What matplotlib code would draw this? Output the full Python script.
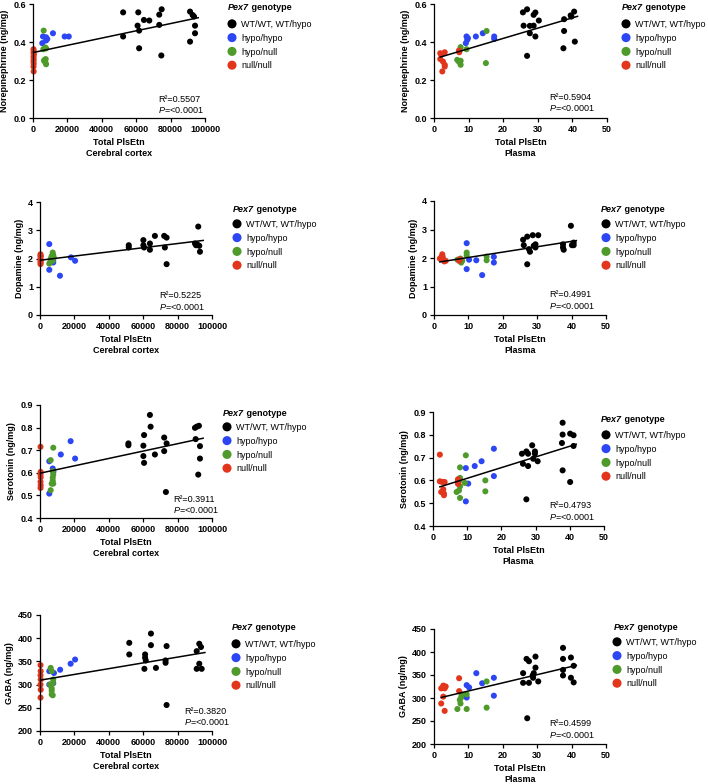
import matplotlib
matplotlib.use("Agg")
import matplotlib.pyplot as plt
import numpy as np

plt.rcParams['font.family'] = ['Liberation Sans', 'DejaVu Sans']
plt.rcParams['mathtext.fontset'] = 'custom'
plt.rcParams['mathtext.rm'] = 'Liberation Sans'
plt.rcParams['mathtext.it'] = 'Liberation Sans:italic'
plt.rcParams['mathtext.bf'] = 'Liberation Sans:bold'

# ---------------- data ----------------
groups = ['WT/WT, WT/hypo', 'hypo/hypo', 'hypo/null', 'null/null']
colors = ['#000000', '#2b46f2', '#4e9a2b', '#e2361c']

# Norepinephrine vs cortex PlsEtn
ne_cx_wt = [(52400,0.556),(52400,0.429),(61200,0.556),(60800,0.486),(61700,0.460),(61700,0.367),(64500,0.516),(67600,0.513),(73400,0.544),(74800,0.572),(73400,0.490),(74600,0.329),(91300,0.560),(92800,0.542),(93600,0.534),(94200,0.486),(94200,0.446),(91300,0.402)]
ne_cx_hh = [(5800,0.429),(7600,0.425),(5400,0.394),(8300,0.416),(7600,0.408),(11600,0.446),(18400,0.429),(20800,0.429)]
ne_cx_hn = [(6200,0.460),(6000,0.362),(7200,0.371),(7600,0.366),(6800,0.306),(7200,0.292),(7600,0.283),(6400,0.302),(7400,0.310)]
ne_cx_nn = [(300,0.362),(400,0.352),(300,0.342),(500,0.333),(300,0.322),(400,0.310),(300,0.298),(400,0.285),(300,0.270),(400,0.245)]
# Norepinephrine vs plasma PlsEtn
ne_pl_wt = [(25.7,0.556),(26.9,0.572),(25.9,0.486),(27.7,0.485),(27.7,0.446),(26.9,0.327),(28.8,0.543),(29.3,0.555),(28.8,0.486),(29.3,0.429),(30.3,0.513),(37.6,0.520),(37.6,0.458),(37.4,0.367),(39.5,0.540),(39.7,0.534),(40.5,0.560),(40.7,0.402)]
ne_pl_hh = [(9.4,0.429),(9.6,0.411),(9.2,0.394),(9.8,0.420),(12.1,0.429),(14.1,0.446),(17.4,0.429),(17.4,0.416)]
ne_pl_hn = [(15.2,0.458),(15.0,0.289),(7.7,0.373),(7.5,0.359),(9.4,0.362),(6.7,0.306),(7.7,0.301),(7.7,0.280),(7.2,0.296)]
ne_pl_nn = [(1.8,0.341),(3.1,0.346),(1.8,0.310),(2.6,0.297),(3.1,0.280),(3.1,0.271),(2.4,0.245),(7.2,0.355),(7.3,0.346),(2.1,0.333)]
# Dopamine
da_cx_wt = [(51600,2.47),(51600,2.39),(60100,2.65),(60100,2.47),(60500,2.39),(63900,2.53),(63900,2.31),(66800,2.80),(72200,2.80),(73600,2.74),(72600,2.39),(73600,1.80),(90100,2.53),(90700,2.47),(92000,3.13),(92600,2.45),(93000,2.24),(91400,2.50)]
da_cx_hh = [(5400,2.51),(5400,1.60),(11600,1.39),(18000,2.04),(20400,1.92),(7700,1.86),(7700,1.95)]
da_cx_hn = [(7400,2.21),(6800,2.09),(6200,1.98),(5800,1.86),(7700,2.12),(8000,2.04),(5400,1.82),(7400,1.92),(6600,2.02)]
da_cx_nn = [(300,2.15),(400,2.07),(300,2.00),(400,1.95),(300,1.90),(400,1.85),(300,2.10),(300,1.80)]
da_pl_wt = [(25.9,2.64),(26.1,2.45),(27.1,2.75),(27.6,2.31),(27.9,2.22),(27.1,1.78),(28.7,2.80),(29.0,2.43),(29.5,2.48),(30.3,2.80),(29.5,2.37),(37.5,2.48),(37.5,2.37),(37.7,2.29),(39.8,3.13),(40.1,2.45),(40.6,2.54),(40.6,2.45)]
da_pl_hh = [(9.5,2.52),(9.5,1.61),(10.2,1.94),(12.3,1.92),(14.0,1.40),(17.4,2.04),(17.4,1.84)]
da_pl_hn = [(6.8,1.94),(7.7,1.98),(7.9,1.84),(8.2,1.90),(9.5,2.19),(9.5,2.10),(15.3,2.05),(15.3,1.92),(7.4,1.92)]
da_pl_nn = [(2.4,2.13),(2.1,2.02),(2.7,1.96),(3.4,1.90),(3.0,1.88),(1.7,1.98),(7.3,1.90),(7.5,1.96),(2.5,2.05)]
# Serotonin
ht_cx_wt = [(51400,0.730),(51400,0.722),(60500,0.767),(60100,0.720),(60100,0.674),(60500,0.644),(63900,0.856),(64300,0.804),(66800,0.681),(72200,0.756),(73600,0.730),(72200,0.696),(73200,0.515),(90100,0.799),(91100,0.804),(92400,0.808),(90500,0.749),(93000,0.718),(93000,0.663),(92000,0.592)]
ht_cx_hh = [(5400,0.651),(12100,0.681),(17800,0.740),(20400,0.663),(7400,0.619),(5400,0.508),(7800,0.605)]
ht_cx_hn = [(6200,0.656),(7700,0.711),(7400,0.607),(7700,0.592),(7400,0.578),(6800,0.552),(7700,0.552),(6200,0.523),(7400,0.565)]
ht_cx_nn = [(300,0.715),(400,0.604),(300,0.592),(400,0.580),(300,0.560),(400,0.545),(300,0.533)]
ht_pl_wt = [(26.0,0.717),(27.3,0.727),(27.8,0.717),(26.3,0.673),(27.8,0.663),(27.3,0.517),(29.0,0.754),(29.3,0.695),(29.8,0.727),(29.8,0.717),(30.6,0.684),(37.9,0.853),(37.9,0.801),(37.7,0.764),(37.9,0.644),(40.1,0.805),(41.1,0.798),(41.1,0.751),(40.1,0.593)]
ht_pl_hh = [(17.8,0.739),(17.8,0.619),(14.2,0.684),(12.2,0.663),(9.6,0.654),(10.3,0.586),(9.6,0.508)]
ht_pl_hn = [(9.6,0.710),(7.9,0.657),(7.9,0.611),(7.6,0.596),(7.9,0.574),(7.6,0.556),(6.9,0.549),(7.9,0.523),(15.3,0.600),(15.3,0.552),(9.3,0.589)]
ht_pl_nn = [(2.0,0.713),(2.0,0.596),(2.7,0.593),(3.4,0.593),(3.0,0.561),(2.4,0.549),(3.2,0.542),(3.2,0.535),(7.3,0.605),(7.3,0.596),(7.3,0.585)]
# GABA
ga_cx_wt = [(51900,390),(51900,365),(61100,365),(61100,358),(61500,352),(60700,334),(64500,410),(64500,385),(67400,336),(73600,383),(73000,352),(73000,347),(73600,256),(91100,372),(92600,388),(93600,381),(92600,345),(91100,334),(94000,334)]
ga_cx_hh = [(5400,329),(8100,325),(11700,332),(17800,345),(20400,354),(7700,303),(5400,300)]
ga_cx_hn = [(6200,336),(6800,329),(7700,311),(7400,303),(5800,300),(6800,292),(6800,287),(6800,279),(7400,277)]
ga_cx_nn = [(300,342),(400,329),(300,320),(400,311),(300,300),(400,289),(300,272)]
ga_pl_wt = [(25.9,354),(25.9,333),(26.9,385),(27.6,380),(27.6,333),(27.1,256),(28.7,349),(29.0,354),(28.8,344),(29.5,390),(29.5,366),(30.3,336),(37.5,409),(37.5,385),(37.5,361),(37.5,349),(39.8,388),(39.8,344),(40.6,370),(40.6,334)]
ga_pl_hh = [(9.5,328),(10.2,323),(9.5,301),(12.3,354),(14.0,332),(17.4,344),(17.4,305)]
ga_pl_hn = [(15.3,336),(15.3,279),(6.8,276),(9.5,276),(7.7,288),(7.9,301),(8.0,308),(9.5,308),(7.5,296)]
ga_pl_nn = [(2.7,327),(2.4,322),(3.4,325),(2.1,321),(3.1,321),(2.7,303),(2.1,288),(3.1,272),(7.3,343),(7.3,315)]

r2_values = ['0.5507', '0.5904', '0.5225', '0.4991', '0.3911', '0.4793', '0.3820', '0.4599']
p_text = '<0.0001'

ylabels = ['Norepinephrine (ng/mg)', 'Dopamine (ng/mg)', 'Serotonin (ng/mg)', 'GABA (ng/mg)']
xlabels = ['Total PlsEtn\nCerebral cortex', 'Total PlsEtn\nPlasma']
cortex_xticks = [0, 20000, 40000, 60000, 80000, 100000]
plasma_xticks = [0, 10, 20, 30, 40, 50]
yticks_rows = [[0.0, 0.2, 0.4, 0.6], [0, 1, 2, 3, 4], [0.4, 0.5, 0.6, 0.7, 0.8, 0.9], [200, 250, 300, 350, 400, 450]]
ytick_labels_rows = [['0.0', '0.2', '0.4', '0.6'], ['0', '1', '2', '3', '4'],
                     ['0.4', '0.5', '0.6', '0.7', '0.8', '0.9'], ['200', '250', '300', '350', '400', '450']]

panel_data = [
    [ne_cx_wt, ne_cx_hh, ne_cx_hn, ne_cx_nn], [ne_pl_wt, ne_pl_hh, ne_pl_hn, ne_pl_nn],
    [da_cx_wt, da_cx_hh, da_cx_hn, da_cx_nn], [da_pl_wt, da_pl_hh, da_pl_hn, da_pl_nn],
    [ht_cx_wt, ht_cx_hh, ht_cx_hn, ht_cx_nn], [ht_pl_wt, ht_pl_hh, ht_pl_hn, ht_pl_nn],
    [ga_cx_wt, ga_cx_hh, ga_cx_hn, ga_cx_nn], [ga_pl_wt, ga_pl_hh, ga_pl_hn, ga_pl_nn],
]

# ---------------- layout (pixels) ----------------
W, H = 708, 784
axes_px = [(33, 205, 4, 118), (434, 607, 4, 118),
           (40, 212, 202, 315), (434, 606, 201, 315),
           (40, 212, 405, 518), (433, 604, 412, 526),
           (40, 212, 615, 731), (434, 606, 629, 744)]
legend_px = [(228, 8, 232, 24), (622, 8, 626, 24),
             (233, 209, 237, 224), (601, 209, 606, 224),
             (223, 413, 227, 427), (601, 420, 606, 435),
             (232, 628, 236, 644), (614, 627, 617, 642)]
stats_px = [(158, 99), (549, 97), (159, 296), (549, 295),
            (173, 499), (549, 506), (184, 711), (549, 724)]

FS = 6.5
fig = plt.figure(figsize=(W / 100, H / 100), dpi=100)

for i in range(8):
    L, R, T, B = axes_px[i]
    ax = fig.add_axes([L / W, 1 - B / H, (R - L) / W, (B - T) / H])
    row, col = i // 2, i % 2
    handles = []
    allx, ally = [], []
    for g, pts in enumerate(panel_data[i]):
        xs = [p[0] for p in pts]
        ys = [p[1] for p in pts]
        allx += xs
        ally += ys
        h = ax.scatter(xs, ys, s=19, color=colors[g], edgecolors='none', clip_on=False, zorder=2)
        handles.append(h)
    slope, icpt = np.polyfit(allx, ally, 1)
    xmin, xmax = min(allx), max(allx)
    xl = np.array([xmin, xmax + 0.02 * (xmax - xmin)])
    ax.plot(xl, slope * xl + icpt, color='black', lw=1.1, zorder=3, clip_on=False)

    xt = cortex_xticks if col == 0 else plasma_xticks
    ax.set_xlim(xt[0], xt[-1])
    ax.set_xticks(xt)
    ax.set_xticklabels([str(v) for v in xt])
    yt = yticks_rows[row]
    ax.set_ylim(yt[0], yt[-1])
    ax.set_yticks(yt)
    ax.set_yticklabels(ytick_labels_rows[row])
    for s in ['top', 'right']:
        ax.spines[s].set_visible(False)
    for s in ['left', 'bottom']:
        ax.spines[s].set_linewidth(0.9)
    ax.tick_params(axis='both', length=3, width=0.9, pad=2, labelsize=FS)
    for lab in ax.get_xticklabels() + ax.get_yticklabels():
        lab.set_fontweight('bold')
    ax.set_xlabel(xlabels[col], fontsize=FS, fontweight='bold', linespacing=1.2, labelpad=3)
    ax.set_ylabel(ylabels[row], fontsize=FS, fontweight='bold', labelpad=3)

    # stats text
    sx, sy = stats_px[i]
    fig.text(sx / W, 1 - sy / H, 'R\u00b2=' + r2_values[i], fontsize=FS, ha='left', va='center')
    fig.text(sx / W, 1 - (sy + 11) / H, r'$\it{P}$=' + p_text, fontsize=FS, ha='left', va='center')

    # legend
    tx, ty, mx, my = legend_px[i]
    fpx = FS * 100 / 72
    ax.legend(handles, groups, loc='upper left',
              bbox_to_anchor=((mx - 0.4 * fpx) / W, 1 - (my - 4.0) / H),
              bbox_transform=fig.transFigure, frameon=False, borderpad=0, borderaxespad=0,
              handlelength=0.8, handletextpad=0.6, labelspacing=0.53, scatteryoffsets=[0.5],
              markerscale=1.5, fontsize=FS)
    t1 = fig.text(tx / W, 1 - ty / H, 'Pex7', fontsize=FS, fontweight='bold', style='italic',
                  ha='left', va='center')
    ax.annotate(' genotype', xy=(1, 0), xycoords=t1, fontsize=FS, fontweight='bold',
                ha='left', va='bottom', annotation_clip=False)

fig.savefig('out.png', dpi=100)
